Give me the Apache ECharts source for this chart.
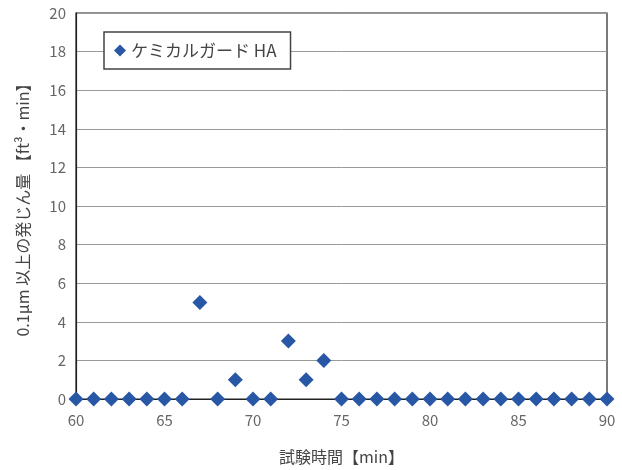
<!DOCTYPE html>
<html><head><meta charset="utf-8">
<script src="https://cdn.jsdelivr.net/npm/echarts@6/dist/echarts.min.js"></script>
<style>html,body{margin:0;padding:0;background:#fff}#c{width:622px;height:470px}</style>
</head><body><div id="c"></div>
<script>
const times = [60,61,62,63,64,65,66,67,68,69,70,71,72,73,74,75,76,77,78,79,80,81,82,83,84,85,86,87,88,89,90];
const dust  = [0,0,0,0,0,0,0,5,0,1,0,0,3,1,2,0,0,0,0,0,0,0,0,0,0,0,0,0,0,0,0];
const seriesName = 'ケミカルガード HA';
const xTitle = '試験時間【min】';
const yTitle = '0.1μm 以上の発じん量 【ft³・min】';

const chart = echarts.init(document.getElementById('c'));
const font = '"Noto Sans CJK JP", "Noto Sans", sans-serif';
chart.setOption({
  animation: false,
  textStyle: {fontFamily: font},
  grid: {left: 76, right: 15, top: 13, bottom: 71, show: true, borderColor: '#222', borderWidth: 1.2,
         containLabel: false, outerBoundsMode: 'none'},
  legend: {
    left: 104, top: 32, padding: [10, 14, 10, 10],
    borderColor: '#444', borderWidth: 1.5, backgroundColor: '#fff',
    icon: 'diamond', itemWidth: 12, itemHeight: 12, itemGap: 4,
    textStyle: {fontSize: 17, color: '#444', fontFamily: font},
    data: [seriesName]
  },
  xAxis: {
    type: 'value', min: 60, max: 90, interval: 5,
    name: xTitle, nameLocation: 'middle', nameGap: 50,
    nameTextStyle: {fontSize: 16, color: '#444'},
    axisLine: {show: true, lineStyle: {color: '#222', width: 1.2}},
    axisTick: {show: false},
    axisLabel: {color: '#666', fontSize: 15, margin: 14, fontFamily: font},
    splitLine: {show: false}
  },
  yAxis: {
    type: 'value', min: 0, max: 20, interval: 2,
    name: yTitle, nameLocation: 'middle', nameGap: 45,
    nameTextStyle: {fontSize: 16, color: '#444'},
    axisLine: {show: true, lineStyle: {color: '#222', width: 1.2}},
    axisTick: {show: false},
    axisLabel: {color: '#666', fontSize: 15, margin: 10, fontFamily: font},
    splitLine: {show: true, lineStyle: {color: '#999', width: 1}}
  },
  series: [{
    name: seriesName, type: 'scatter', symbol: 'diamond', symbolSize: [15, 15],
    itemStyle: {color: '#2857A6', opacity: 1},
    data: times.map((t, i) => [t, dust[i]])
  }]
});
</script></body></html>
